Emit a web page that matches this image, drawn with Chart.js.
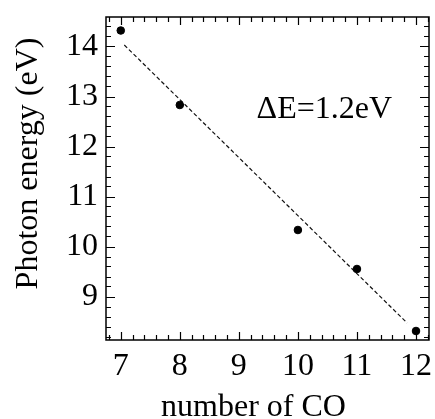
<!DOCTYPE html>
<html>
<head>
<meta charset="utf-8">
<script src="https://cdn.jsdelivr.net/npm/chart.js@4.4.1/dist/chart.umd.min.js"></script>
<style>
  html, body { margin: 0; padding: 0; background: #fff; }
  #wrap { width: 435px; height: 419px; }
</style>
</head>
<body>
<div id="wrap"><canvas id="chart"></canvas></div>
<script>
// ── data ───────────────────────────────────────────────────────────────────
const numCO       = [7, 8, 10, 11, 12];
const photonE     = [14.32, 12.83, 10.33, 9.55, 8.31];

// linear fit (dashed), endpoints as drawn
const fitX        = [7.06, 11.85];
const fitY        = [14.03, 8.47];

const xRange      = [6.75, 12.22];
const yRange      = [8.13, 14.59];
const minorStep   = 0.2;

const noteText    = 'ΔE=1.2eV';
const notePos     = [9.3, 12.57];   // data coords of the text's left baseline

const xTitle      = 'number of CO';
const yTitle      = 'Photon energy (eV)';

// ── styling ────────────────────────────────────────────────────────────────
const SERIF = '"Liberation Serif", "Times New Roman", serif';
Chart.defaults.font.family = SERIF;
Chart.defaults.color = '#000';

// inward ticks on all four sides + frame + note + axis titles
// (titles drawn here: in the original they sit a bit off the axis centre)
const frameTicks = {
  id: 'frameTicks',
  afterDraw(chart) {
    const { ctx, chartArea: a, scales: { x, y } } = chart;
    ctx.save();
    ctx.strokeStyle = '#000';

    const isMajor = v => Math.abs(v - Math.round(v)) < 1e-6;
    const steps = (lo, hi) => {
      const out = [];
      for (let i = Math.ceil(lo / minorStep - 1e-6); i * minorStep <= hi + 1e-6; i++) out.push(i * minorStep);
      return out;
    };

    ctx.lineWidth = 1.2;
    ctx.beginPath();
    steps(x.min, x.max).forEach(v => {
      const px = Math.round(x.getPixelForValue(v)) + 0.5;
      const len = isMajor(v) ? 8 : 5;
      ctx.moveTo(px, a.bottom); ctx.lineTo(px, a.bottom - len);
      ctx.moveTo(px, a.top);    ctx.lineTo(px, a.top + len);
    });
    steps(y.min, y.max).forEach(v => {
      const py = Math.round(y.getPixelForValue(v)) + 0.5;
      const len = isMajor(v) ? 9 : 5;
      ctx.moveTo(a.left, py);  ctx.lineTo(a.left + len, py);
      ctx.moveTo(a.right, py); ctx.lineTo(a.right - len, py);
    });
    ctx.stroke();

    ctx.lineWidth = 1.5;
    ctx.strokeRect(a.left, a.top, a.right - a.left, a.bottom - a.top);

    ctx.fillStyle = '#000';
    ctx.font = '32px ' + SERIF;
    ctx.textBaseline = 'alphabetic';
    ctx.textAlign = 'left';
    ctx.fillText(noteText, x.getPixelForValue(notePos[0]), y.getPixelForValue(notePos[1]));

    ctx.textAlign = 'center';
    ctx.fillText(xTitle, (a.left + a.right) / 2 - 14, a.bottom + 76);

    ctx.translate(37, (a.top + a.bottom) / 2 - 15);
    ctx.rotate(-Math.PI / 2);
    ctx.fillText(yTitle, 0, 0);
    ctx.restore();
  }
};

new Chart(document.getElementById('chart'), {
  type: 'scatter',
  data: {
    datasets: [
      {
        label: 'fit',
        type: 'line',
        data: fitX.map((v, i) => ({ x: v, y: fitY[i] })),
        borderColor: '#111',
        borderWidth: 1.2,
        borderDash: [4, 2.5],
        pointRadius: 0,
        fill: false,
        order: 2,
      },
      {
        label: 'data',
        data: numCO.map((v, i) => ({ x: v, y: photonE[i] })),
        backgroundColor: '#000',
        borderColor: '#000',
        pointStyle: 'circle',
        pointRadius: 3.8,
        order: 1,
      }
    ]
  },
  options: {
    responsive: true, maintainAspectRatio: false,
    animation: false,
    layout: { padding: { top: 17, right: 6, left: 0, bottom: 0 } },
    plugins: { legend: { display: false }, tooltip: { enabled: false } },
    scales: {
      x: {
        type: 'linear', min: xRange[0], max: xRange[1],
        grid: { display: false, drawTicks: false },
        border: { display: false },
        ticks: {
          stepSize: 1, includeBounds: false, padding: 7,
          font: { size: 32, lineHeight: 1.2 },
          callback: v => Number.isInteger(v) ? String(v) : ''
        },
        afterFit(s) { s.height = 79; s.paddingLeft = s.paddingRight = 0; }
      },
      y: {
        type: 'linear', min: yRange[0], max: yRange[1],
        grid: { display: false, drawTicks: false },
        border: { display: false },
        ticks: {
          stepSize: 1, includeBounds: false, padding: 8,
          font: { size: 32, lineHeight: 1.2 },
          callback: v => Number.isInteger(v) ? String(v) : ''
        },
        afterFit(s) { s.width = 106; s.paddingTop = s.paddingBottom = 0; }
      }
    }
  },
  plugins: [frameTicks]
});
</script>
</body>
</html>
